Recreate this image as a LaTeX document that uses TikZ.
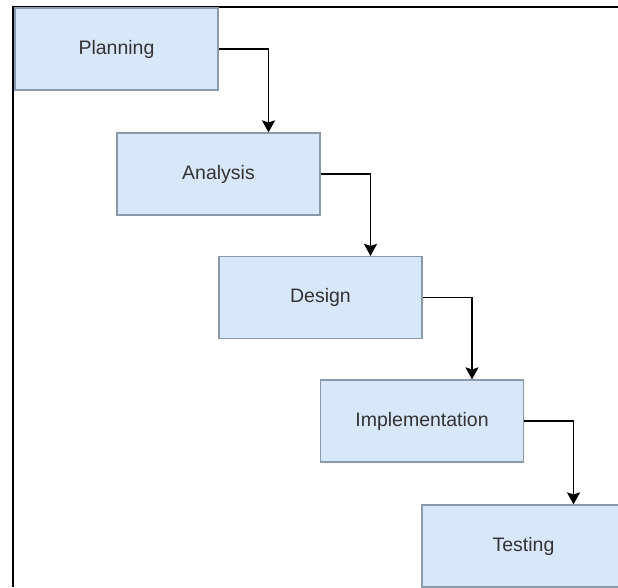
\documentclass[tikz,border=0pt]{standalone}
\usepackage{fontspec}
\setmainfont{Liberation Sans}
\usetikzlibrary{arrows.meta}

\definecolor{phasefill}{HTML}{D8E7FA}
\definecolor{phaseline}{HTML}{8A9AAA}
\definecolor{phasetext}{HTML}{333333}

\begin{document}
\begin{tikzpicture}[x=1pt, y=1pt]
    \tikzstyle{every node}=[align = center, font=\fontsize{19.5}{23}\selectfont, text=phasetext]
    \tikzstyle{phase} = [draw=phaseline, line width=1.2pt, fill=phasefill, minimum width=203pt, minimum height=82pt, inner sep=0pt]
    \tikzstyle{flow} = [line width=1.8pt, -{Stealth[length=12pt, width=13pt, inset=2pt]}]
    \useasboundingbox (0,0) rectangle (618,-587);
    \clip (0,0) rectangle (618,-587);
    % frame
    \draw[line width=2pt] (618,-7) -- (13,-7) -- (13,-587);
    % phases
    \node[phase] (plan) at (116.5,-49) {Planning};
    \node[phase] (ana) at (218.5,-174) {Analysis};
    \node[phase] (des) at (320.5,-297.5) {Design};
    \node[phase] (impl) at (422,-421) {Implementation};
    \node[phase] (test) at (523.5,-546) {Testing};
    % arrows
    \draw[flow] (plan.east) -| ([xshift=50pt]ana.north);
    \draw[flow] (ana.east) -| ([xshift=50pt]des.north);
    \draw[flow] (des.east) -| ([xshift=50pt]impl.north);
    \draw[flow] (impl.east) -| ([xshift=50pt]test.north);
\end{tikzpicture}
\end{document}
